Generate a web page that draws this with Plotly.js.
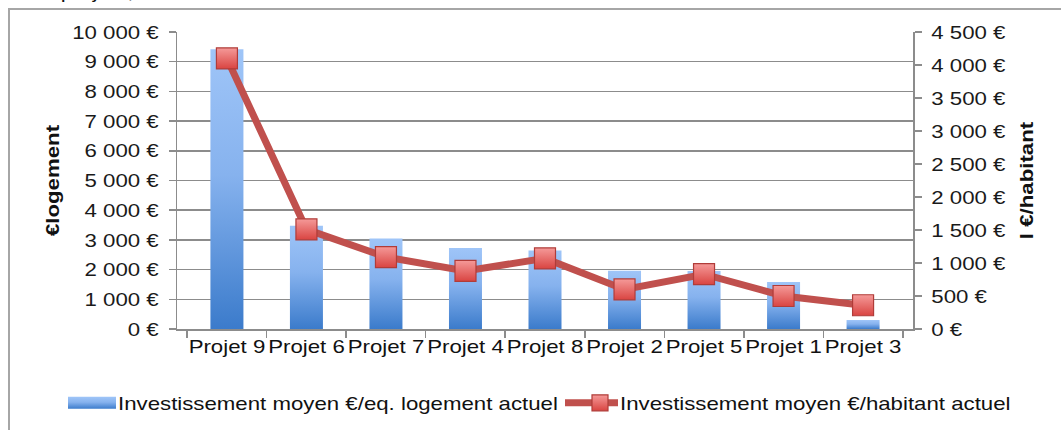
<!DOCTYPE html>
<html>
<head>
<meta charset="utf-8">
<script src="https://cdn.plot.ly/plotly-3.0.1.min.js"></script>
<style>
html,body{margin:0;padding:0;background:#fff;}
#wrap{position:relative;width:1061px;height:430px;overflow:hidden;}
#chart{position:absolute;left:0;top:0;width:1061px;height:430px;}
#frame{position:absolute;left:8px;top:8px;width:1100px;height:500px;border-left:2px solid #a6a6a6;border-top:2px solid #a6a6a6;pointer-events:none;}
</style>
</head>
<body>
<div id="wrap">
<div id="chart"></div>
<div id="frame"></div>
</div>
<script>
const categories = ["Projet 9","Projet 6","Projet 7","Projet 4","Projet 8","Projet 2","Projet 5","Projet 1","Projet 3"];
const investLogement = [9420, 3480, 3050, 2730, 2640, 1960, 1950, 1580, 300];
const investHabitant = [4100, 1510, 1090, 880, 1070, 600, 830, 500, 360];
const seriesNames = ["Investissement moyen €/eq. logement actuel", "Investissement moyen €/habitant actuel"];
const leftTitle = "€logement";
const rightTitle = "l €/habitant";
const headerText = "projets,";

const FONT = "Liberation Sans, Arial, sans-serif";
const STRETCH = 1.17;

function px(p) { return (p - 177) / 736; }
function py(p) { return (329 - p) / 297; }

const traces = [
  {
    type: "bar", x: categories, y: investLogement, name: seriesNames[0],
    marker: {color: "#6a9fe3", line: {width: 0}},
    yaxis: "y", hoverinfo: "none", legend: "legend"
  },
  {
    type: "scatter", mode: "lines+markers", x: categories, y: investHabitant, name: seriesNames[1],
    yaxis: "y2", hoverinfo: "none", legend: "legend2",
    line: {color: "#c0504d", width: 7},
    marker: {symbol: "square", size: 21, color: "#f59a99",
             gradient: {type: "vertical", color: "#d94441"},
             line: {color: "#b03c39", width: 1.2}}
  }
];

const legendFont = {family: FONT, size: 19, color: "#111"};
const layout = {
  width: 1061, height: 430,
  margin: {l: 177, r: 148, t: 32, b: 101, autoexpand: false},
  paper_bgcolor: "#ffffff", plot_bgcolor: "#ffffff",
  separators: ", ",
  font: {family: FONT, size: 19, color: "#1a1a1a"},
  bargap: 0.585,
  showlegend: true,
  legend: {x: px(78), xanchor: "left", y: py(403), yanchor: "middle", font: legendFont,
           bgcolor: "rgba(0,0,0,0)", borderwidth: 0},
  legend2: {x: px(580), xanchor: "left", y: py(403), yanchor: "middle", font: legendFont,
           bgcolor: "rgba(0,0,0,0)", borderwidth: 0},
  xaxis: {
    type: "category", showline: true, linecolor: "#8c8c8c", linewidth: 1.5,
    ticks: "outside", ticklen: 7, tickcolor: "#8c8c8c", tickwidth: 1.5, tickson: "boundaries",
    tickfont: {family: FONT, size: 19, color: "#111"}, showgrid: false
  },
  yaxis: {
    range: [0, 10000], dtick: 1000, tickformat: ",d", ticksuffix: " €",
    showline: true, linecolor: "#8c8c8c", linewidth: 1.5,
    ticks: "outside", ticklen: 7, tickcolor: "#8c8c8c", tickwidth: 1.5, ticklabelstandoff: 6,
    gridcolor: "#8c8c8c", gridwidth: 1.5, zeroline: false,
    tickfont: {family: FONT, size: 19, color: "#1a1a1a"},
    title: {text: leftTitle, font: {family: FONT, size: 19, color: "#111", weight: "bold"}, standoff: 20}
  },
  yaxis2: {
    overlaying: "y", side: "right",
    range: [0, 4500], dtick: 500, tickformat: ",d", ticksuffix: " €",
    showline: true, linecolor: "#8c8c8c", linewidth: 1.5,
    ticks: "outside", ticklen: 7, tickcolor: "#8c8c8c", tickwidth: 1.5, ticklabelstandoff: 6,
    showgrid: false, zeroline: false,
    tickfont: {family: FONT, size: 19, color: "#1a1a1a"},
    title: {text: rightTitle, font: {family: FONT, size: 19, color: "#111", weight: "bold"}, standoff: 25}
  },
  annotations: [
    {text: headerText, xref: "paper", yref: "paper", x: px(64), xanchor: "left",
     y: py(4), yanchor: "bottom", showarrow: false,
     font: {family: FONT, size: 19, color: "#111"}}
  ]
};

function anchorPoint(b, anchor) {
  if (anchor === "end") return b.x + b.width;
  if (anchor === "middle") return b.x + b.width / 2;
  return b.x;
}

function stretchOne(t) {
  try {
    if (t.hasAttribute("textLength")) return;
    const w = t.getComputedTextLength();
    if (!(w > 0)) return;
    const anchor = t.getAttribute("text-anchor") || getComputedStyle(t).textAnchor || "start";
    const b0 = t.getBBox();
    t.setAttribute("textLength", (w * STRETCH).toFixed(2));
    t.setAttribute("lengthAdjust", "spacingAndGlyphs");
    const b1 = t.getBBox();
    const dx = anchorPoint(b0, anchor) - anchorPoint(b1, anchor);
    if (Math.abs(dx) > 0.2) {
      const x0 = parseFloat(t.getAttribute("x") || "0");
      t.setAttribute("x", (x0 + dx).toFixed(2));
    }
  } catch (e) {}
}

function stretchText(root) {
  const sel = ".xtick text, .ytick text, .y2tick text, .g-ytitle text, .g-y2title text, text.legendtext, g.traces text, .annotation-text";
  root.querySelectorAll(sel).forEach(stretchOne);
}

function decorate(gd) {
  const svg = gd.querySelector("svg.main-svg");
  const ns = "http://www.w3.org/2000/svg";
  if (!document.getElementById("barGrad")) {
    let defs = svg.querySelector("defs");
    if (!defs) { defs = document.createElementNS(ns, "defs"); svg.insertBefore(defs, svg.firstChild); }
    const grad = document.createElementNS(ns, "linearGradient");
    grad.setAttribute("id", "barGrad");
    grad.setAttribute("x1", "0"); grad.setAttribute("y1", "0");
    grad.setAttribute("x2", "0"); grad.setAttribute("y2", "1");
    [["0", "#9fc5f8"], ["0.45", "#86b2ee"], ["1", "#3b7bcb"]].forEach(function (s) {
      const st = document.createElementNS(ns, "stop");
      st.setAttribute("offset", s[0]); st.setAttribute("stop-color", s[1]);
      grad.appendChild(st);
    });
    defs.appendChild(grad);
  }
  gd.querySelectorAll(".barlayer .point path").forEach(function (p) { p.style.fill = "url(#barGrad)"; });
  gd.querySelectorAll(".legendbar path, path.legendundefined").forEach(function (p) {
    p.setAttribute("d", "M-30,-6h48v12h-48z");
    p.style.fill = "url(#barGrad)";
    p.style.stroke = "none";
  });
  gd.querySelectorAll(".legendlines path").forEach(function (p) {
    p.setAttribute("d", "M-15,0h53");
  });
  gd.querySelectorAll("[clip-path]").forEach(function (el) {
    if (el.closest && el.closest("[class^='legend']")) el.removeAttribute("clip-path");
  });
  gd.querySelectorAll("g.legend, g.legend2").forEach(function (el) { el.removeAttribute("clip-path"); });
  stretchText(gd);
}

Plotly.newPlot("chart", traces, layout, {displayModeBar: false, staticPlot: true}).then(function (gd) {
  decorate(gd);
  setTimeout(function () { decorate(gd); }, 50);
});
</script>
</body>
</html>
